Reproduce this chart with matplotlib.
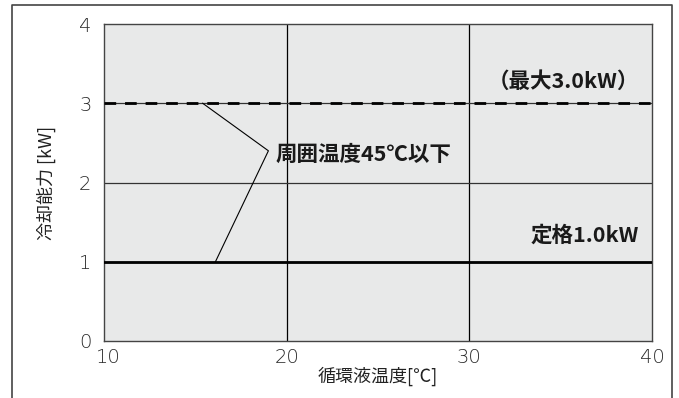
import matplotlib
matplotlib.use("Agg")
import matplotlib.pyplot as plt
from matplotlib.lines import Line2D
from matplotlib.transforms import ScaledTranslation

plt.rcParams['font.family'] = ['Noto Sans CJK JP', 'DejaVu Sans']

# data
x_range = [10, 40]
max_capacity = 3.0      # (最大3.0kW)
rated_capacity = 1.0    # 定格1.0kW
x_ticks = [10, 20, 30, 40]
y_ticks = [0, 1, 2, 3, 4]
# leader line points of the annotation (x, y)
leader_x = [15.4, 19.0, 16.1]
leader_y = [3.0, 2.4, 1.0]

fig = plt.figure(figsize=(6.79, 3.98), dpi=100)
ax = fig.add_axes([104 / 679, 57 / 398, 548 / 679, 317 / 398])
ax.set_facecolor("#e8e9e9")

# grid lines
for gx in [20, 30]:
    ax.axvline(gx, color="black", lw=0.9, zorder=1)
for gy in [1, 2, 3]:
    ax.axhline(gy, color="#333333", lw=0.9, zorder=1)

# max (dashed) and rated (solid) lines
ax.plot(x_range, [max_capacity, max_capacity], color="black", lw=2.0,
        dashes=(4.2, 3.2), zorder=3)
ax.plot(x_range, [rated_capacity, rated_capacity], color="black", lw=2.0, zorder=3)

# leader line to the label
ax.plot(leader_x, leader_y, color="black", lw=0.8, zorder=2)

ax.text(19.4, 2.35, "周囲温度45℃以下", fontsize=15.5, fontweight="bold",
        ha="left", va="center", color="#1a1a1a")
ax.text(39.3, 3.28, "（最大3.0kW）", fontsize=15.5, fontweight="bold",
        ha="right", va="center", color="#1a1a1a")
ax.text(39.3, 1.34, "定格1.0kW", fontsize=15.5, fontweight="bold",
        ha="right", va="center", color="#1a1a1a")

ax.set_xlim(x_range)
ax.set_ylim(0, 4)
ax.set_xticks(x_ticks)
ax.set_yticks(y_ticks)
ax.tick_params(length=0, labelsize=14, colors="#2a2a2a")
ax.tick_params(axis="x", pad=5)
ax.tick_params(axis="y", pad=9)
for lbl in ax.get_xticklabels() + ax.get_yticklabels():
    lbl.set_fontfamily(['DejaVu Sans'])
    lbl.set_fontweight("light")
# the "10" label sits a bit to the right of the corner
first = ax.get_xticklabels()[0]
first.set_transform(first.get_transform() + ScaledTranslation(3 / 72, 0, fig.dpi_scale_trans))
for s in ax.spines.values():
    s.set_color("#444444")
    s.set_linewidth(1.0)

ax.set_xlabel("循環液温度[℃]", fontsize=13, color="#222222", labelpad=0)
ax.set_ylabel("冷却能力 [kW]", fontsize=13, color="#222222", labelpad=17)

# outer frame (open at the bottom)
frame = Line2D([12 / 679, 12 / 679, 672 / 679, 672 / 679],
               [0, 393 / 398, 393 / 398, 0],
               transform=fig.transFigure, color="#444444", lw=1.2)
fig.add_artist(frame)

fig.savefig("out.png", dpi=100)
